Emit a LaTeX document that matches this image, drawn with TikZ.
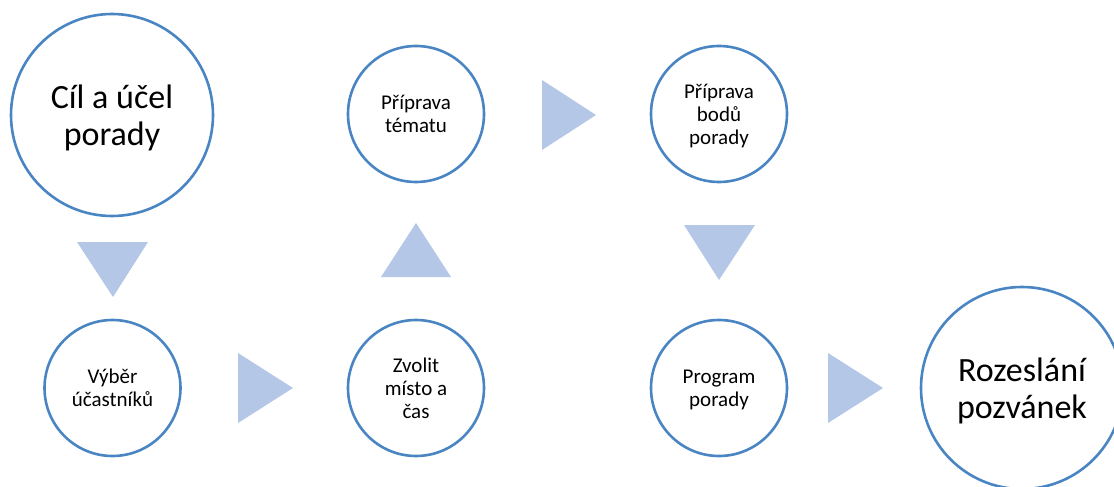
\documentclass[tikz,border=0pt]{standalone}
\usepackage{fontspec}
\setmainfont{Carlito}
\definecolor{ringblue}{HTML}{4A85C3}
\definecolor{arrowfill}{HTML}{B4C7E7}
\tikzset{
  x=1pt, y=-1pt,
  stepring/.style={circle, draw=ringblue, line width=2.6pt, fill=white,
    inner sep=0pt, align=center, text=black, text depth=0pt},
  smallring/.style={stepring, minimum size=136pt,
    font=\fontsize{21}{23}\selectfont},
  bigring/.style={stepring, minimum size=202pt,
    font=\fontsize{34}{37}\selectfont},
  flowtri/.style={fill=arrowfill, draw=none}
}
\begin{document}
\begin{tikzpicture}
  \useasboundingbox (0,0) rectangle (1114,487);
  \clip (0,0) rectangle (1114,487);

  % process steps
  \node[bigring]   (cil)  at (112,115)  {Cíl a účel\\porady};
  \node[smallring] (vyb)  at (112.5,388) {Výběr\\účastníků};
  \node[smallring] (zvo)  at (416,388)  {Zvolit\\místo a\\čas};
  \node[smallring] (tem)  at (416,114)  {Příprava\\tématu};
  \node[smallring] (bod)  at (719,114)  {Příprava\\bodů\\porady};
  \node[smallring] (prg)  at (719,388)  {Program\\porady};
  \node[bigring]   (roz)  at (1022,388) {Rozeslání\\pozvánek};

  % triangular arrows between the steps
  \fill[flowtri] (77,242) -- (148,242) -- (113,297) -- cycle;
  \fill[flowtri] (238,353) -- (238,423) -- (293,388) -- cycle;
  \fill[flowtri] (381,277) -- (451,277) -- (416,223) -- cycle;
  \fill[flowtri] (542,80) -- (542,150) -- (596,115) -- cycle;
  \fill[flowtri] (684,225) -- (755,225) -- (719,280) -- cycle;
  \fill[flowtri] (828,353) -- (828,423) -- (883,388) -- cycle;
\end{tikzpicture}
\end{document}
